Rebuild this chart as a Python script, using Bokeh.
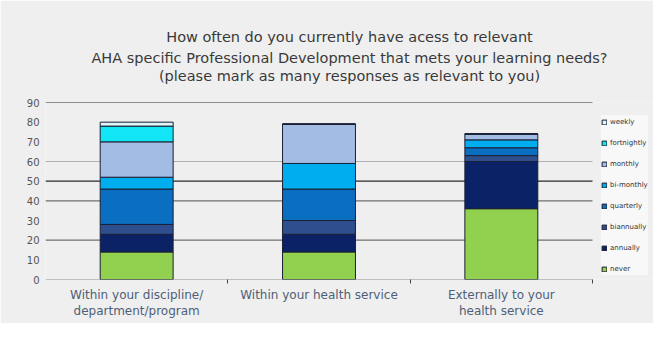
from bokeh.plotting import figure
from bokeh.models import (Range1d, FixedTicker, Legend, LegendItem, ColumnDataSource, Title)
from bokeh.embed import file_html
from bokeh.resources import INLINE

categories = ["Within your discipline/\ndepartment/program",
              "Within your health service",
              "Externally to your\nhealth service"]
series = ["never", "annually", "biannually", "quarterly",
          "bi-monthly", "monthly", "fortnightly", "weekly"]
never = [14, 14, 36]
annually = [9, 9, 24]
biannually = [5, 7, 3]
quarterly = [18, 16, 4]
bi_monthly = [6, 13, 4]
monthly = [18, 20, 3]
fortnightly = [8, 0, 0]
weekly = [2, 0, 0]
y_ticks = [0, 10, 20, 30, 40, 50, 60, 70, 80, 90]
grid_lines = [90, 60, 50, 40, 20]
grid_colors = ["#2a2a2a", "#b0b0b0", "#2a2a2a", "#707070", "#707070"]
colors = ["#92D050", "#0B2266", "#2F4E8E", "#0A6FC0",
          "#00AEEF", "#A3BCE4", "#12E6F6", "#DDF4F8"]
title_lines = ["How often do you currently have acess to relevant",
               "AHA specific Professional Development that mets your learning needs?",
               "(please mark as many responses as relevant to you)"]

values = [never, annually, biannually, quarterly, bi_monthly, monthly, fortnightly, weekly]
n = len(categories)
xpos = [i + 0.5 for i in range(n)]
data = {"x": xpos}
for s, v in zip(series, values):
    data[s] = v
source = ColumnDataSource(data)

BG = "#EFEFEF"
W, H = 653, 323
left, right_cat = 45, 592
x_end = n * (W - left) / (right_cat - left)
p = figure(width=W, height=H, output_backend="svg", toolbar_location=None,
           x_range=Range1d(0, x_end), y_range=Range1d(0, 90),
           min_border_left=left, min_border_right=0, min_border_top=102, min_border_bottom=44,
           background_fill_color=BG, border_fill_color=BG, outline_line_color=None)

# grid lines and base line across the category extent only
for yv, c in zip(grid_lines, grid_colors):
    p.segment(x0=0, x1=n, y0=yv, y1=yv, line_color=c, line_width=1.2)
p.segment(x0=0, x1=n, y0=0, y1=0, line_color="#8a8a8a", line_width=1.2)

rs = p.vbar_stack(series, x="x", width=0.4, source=source, color=colors,
                  line_color="#1a1f33", line_width=1)

p.xgrid.visible = False
p.ygrid.visible = False

# y axis
p.yaxis.ticker = FixedTicker(ticks=y_ticks)
p.yaxis.axis_line_color = None
p.yaxis.major_tick_line_color = None
p.yaxis.major_tick_out = 0
p.yaxis.minor_tick_line_color = None
p.yaxis.major_label_standoff = 6
p.yaxis.major_label_text_font = "DejaVu Sans"
p.yaxis.major_label_text_font_size = "10px"
p.yaxis.major_label_text_color = "#555555"

# x axis
p.xaxis.ticker = FixedTicker(ticks=xpos, minor_ticks=list(range(1, n + 1)))
p.xaxis.major_label_overrides = {x: c for x, c in zip(xpos, categories)}
p.xaxis.major_tick_line_color = None
p.xaxis.major_tick_out = 0
p.xaxis.major_tick_in = 0
p.xaxis.minor_tick_out = 4
p.xaxis.minor_tick_in = 0
p.xaxis.minor_tick_line_color = "#444444"
p.xaxis.axis_line_color = None
p.xaxis.major_label_standoff = 4
p.xaxis.major_label_text_font = "DejaVu Sans"
p.xaxis.major_label_text_font_size = "12px"
p.xaxis.major_label_text_color = "#4e6078"
p.xaxis.major_label_text_line_height = 1.2

# title: three centred lines; p.title is the outermost one
def style_title(t, standoff):
    t.align = "center"
    t.text_font = "DejaVu Sans"
    t.text_font_size = "14.5px"
    t.text_font_style = "normal"
    t.text_color = "#3a3a3a"
    t.offset = 3
    t.standoff = standoff

p.title.text = title_lines[0]
style_title(p.title, 5)
spacer = Title(text=" ")
style_title(spacer, 1)
p.add_layout(spacer, "above")
t3 = Title(text=title_lines[2])
style_title(t3, -1)
p.add_layout(t3, "above")
t2 = Title(text=title_lines[1])
style_title(t2, 1)
p.add_layout(t2, "above")

# legend
items = [LegendItem(label=s, renderers=[r]) for s, r in zip(series, rs)][::-1]
legend = Legend(items=items, location=(556, 4), orientation="vertical",
                label_text_font="DejaVu Sans", label_text_font_size="7px",
                label_text_color="#333333", glyph_width=6, glyph_height=6,
                label_height=13, spacing=8, label_standoff=3, padding=4, margin=0,
                background_fill_color="#F8F8F8", background_fill_alpha=1,
                border_line_color=None)
p.add_layout(legend, "center")

open("out.html", "w").write(file_html(p, INLINE))
